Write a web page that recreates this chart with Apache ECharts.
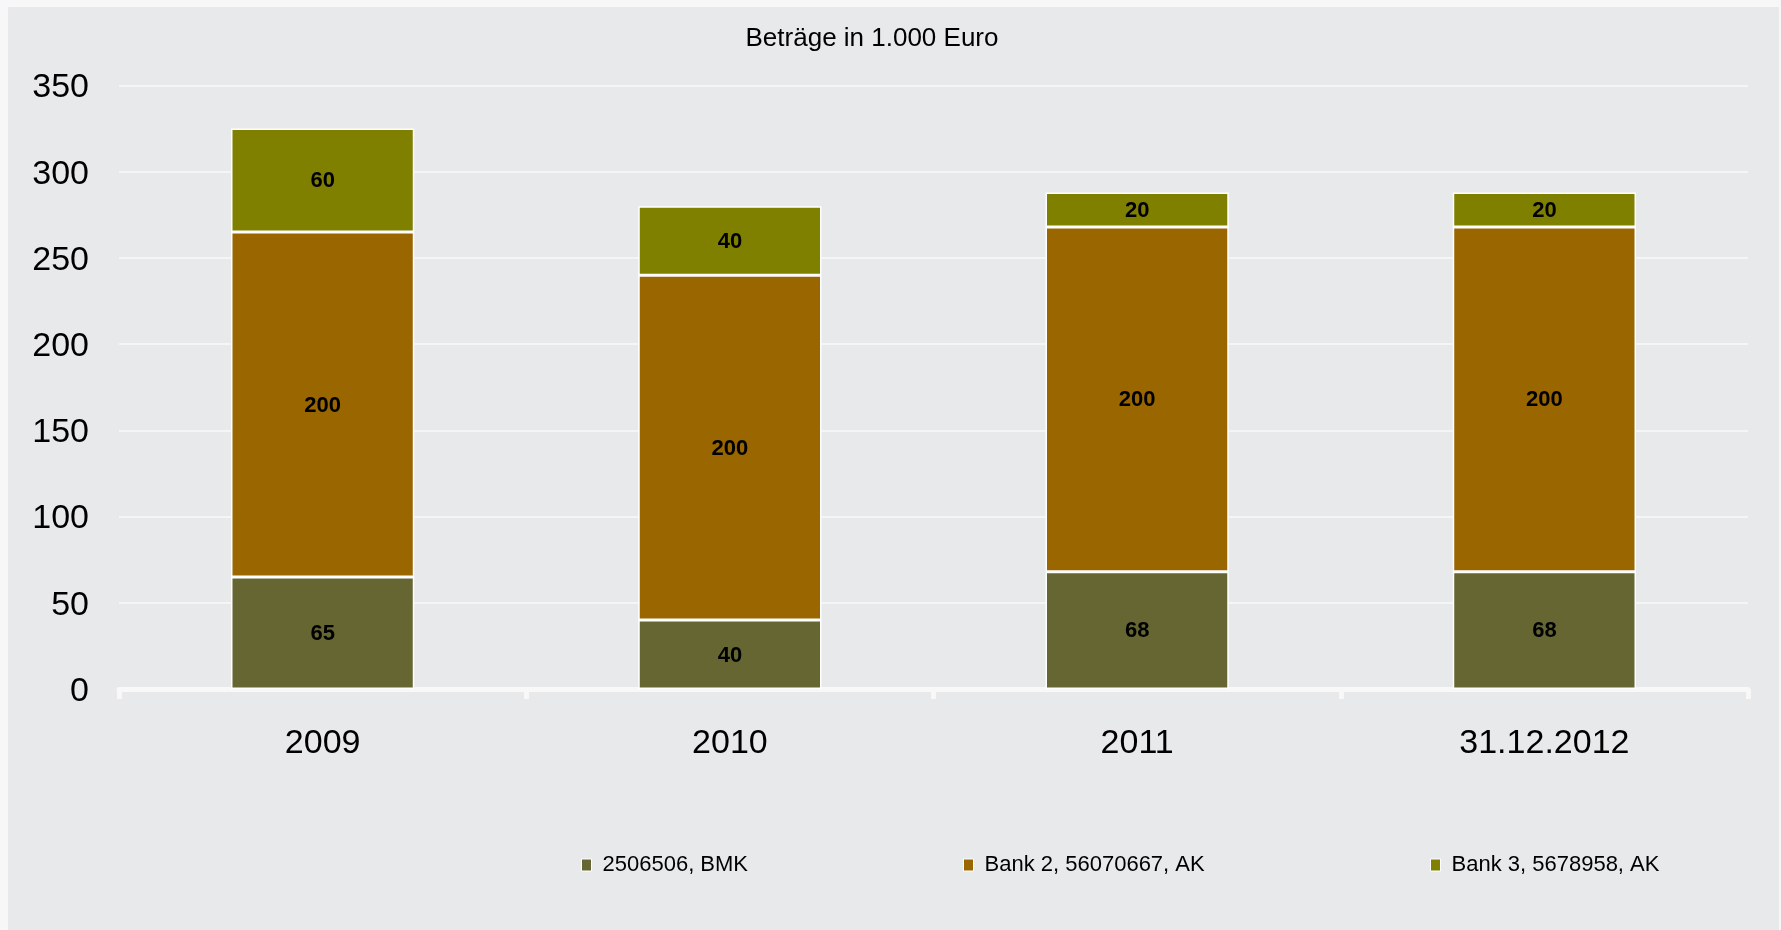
<!DOCTYPE html>
<html>
<head>
<meta charset="utf-8">
<script src="https://cdn.jsdelivr.net/npm/echarts@6/dist/echarts.min.js"></script>
<style>
  html, body { margin: 0; padding: 0; background: #f7f7f7; }
  #chart { width: 1781px; height: 930px; }
</style>
</head>
<body>
<div id="chart"></div>
<script>
const categories = ['2009', '2010', '2011', '31.12.2012'];
const seriesNames = ['2506506, BMK', 'Bank 2, 56070667, AK', 'Bank 3, 5678958, AK'];
const bmkValues = [65, 40, 68, 68];
const bank2Values = [200, 200, 200, 200];
const bank3Values = [60, 40, 20, 20];
const seriesColors = ['#666633', '#996600', '#808000'];
const yTicks = { min: 0, max: 350, interval: 50 };
const chartTitle = 'Beträge in 1.000 Euro';

const FONT = "'Liberation Sans', Arial, sans-serif";
const chart = echarts.init(document.getElementById('chart'));

const values = [bmkValues, bank2Values, bank3Values];
const series = values.map((vals, i) => ({
  name: seriesNames[i],
  type: 'bar',
  stack: 'total',
  barWidth: '45%',
  data: vals,
  itemStyle: { color: seriesColors[i], borderColor: '#ffffff', borderWidth: 1.5 },
  label: {
    show: true,
    position: 'inside',
    formatter: '{v|{c}}',
    rich: {
      v: { color: '#000000', fontFamily: FONT, fontWeight: 'bold', fontSize: 22, padding: [2, 0, 0, 0] }
    }
  },
  emphasis: { disabled: true }
}));

const legendLefts = [581, 963, 1430];
const legends = seriesNames.map((n, i) => ({
  data: [n],
  left: legendLefts[i],
  top: 854,
  padding: 0,
  icon: 'rect',
  itemWidth: 10,
  itemHeight: 12,
  selectedMode: false,
  itemStyle: { borderColor: '#ffffff', borderWidth: 1 },
  textStyle: { color: '#000000', fontFamily: FONT, fontSize: 22, padding: [0, 0, 0, 6] }
}));

chart.setOption({
  animation: false,
  backgroundColor: '#f7f7f7',
  graphic: [
    { type: 'rect', z: -10, silent: true, shape: { x: 8, y: 7, width: 1771, height: 923 }, style: { fill: '#e8e9eb' } },
    { type: 'text', x: 872, y: 39, silent: true, style: { text: chartTitle, textAlign: 'center', textVerticalAlign: 'middle', font: "26px 'Liberation Sans', Arial, sans-serif", fill: '#000000' } }
  ],
  legend: legends,
  grid: { left: 119, right: 33, top: 85.5, bottom: 241, containLabel: false },
  xAxis: {
    type: 'category',
    data: categories,
    axisLine: { show: true, lineStyle: { color: '#f8f8f8', width: 5 } },
    axisTick: { show: true, alignWithLabel: false, length: 10, lineStyle: { color: '#f8f8f8', width: 5 } },
    axisLabel: { color: '#000000', fontFamily: FONT, fontSize: 34, margin: 38 },
    splitLine: { show: false }
  },
  yAxis: {
    type: 'value',
    min: yTicks.min,
    max: yTicks.max,
    interval: yTicks.interval,
    axisLine: { show: false },
    axisTick: { show: false },
    axisLabel: {
      margin: 30,
      formatter: '{v|{value}}',
      rich: { v: { color: '#000000', fontFamily: FONT, fontSize: 34, padding: [5, 0, 0, 0] } }
    },
    splitLine: { lineStyle: { color: '#f5f5f6', width: 2 } }
  },
  series: series
});
</script>
</body>
</html>
